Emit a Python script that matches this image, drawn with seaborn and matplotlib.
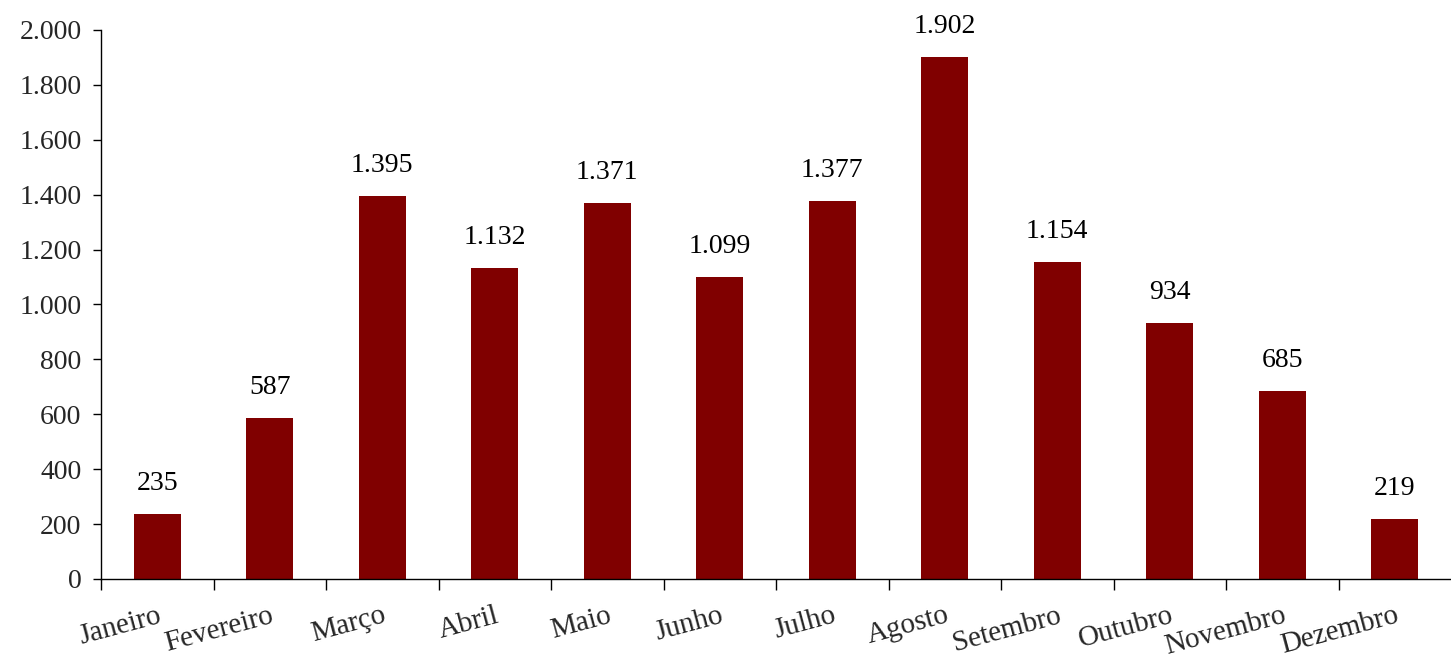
import matplotlib
matplotlib.use("Agg")
import matplotlib.pyplot as plt
import seaborn as sns
import pandas as pd
from matplotlib.ticker import FuncFormatter

months = ["Janeiro", "Fevereiro", "Março", "Abril", "Maio", "Junho", "Julho",
          "Agosto", "Setembro", "Outubro", "Novembro", "Dezembro"]
values = [235, 587, 1395, 1132, 1371, 1099, 1377, 1902, 1154, 934, 685, 219]

sns.set_theme(style="white")
plt.rcParams['font.family'] = ['Liberation Serif', 'DejaVu Serif']

fig = plt.figure(figsize=(14.51, 6.69), dpi=100)
ax = fig.add_axes([101/1451, 1 - 579/669, 1350/1451, 549/669])

df = pd.DataFrame({"month": months, "value": values})
sns.barplot(data=df, x="month", y="value", color="#800000", width=0.42,
            saturation=1, linewidth=0, ax=ax)

fmt = lambda v: f"{int(v):,}".replace(",", ".")
for i, v in enumerate(values):
    ax.annotate(fmt(v), (i, v), xytext=(0, 13), textcoords="offset points",
                ha="center", va="bottom", fontsize=20, color="black")

ax.set_xlim(-0.5, len(months) - 0.5)
ax.set_ylim(0, 2000)
ax.set_yticks(range(0, 2001, 200))
ax.yaxis.set_major_formatter(FuncFormatter(lambda v, p: fmt(v)))
ax.tick_params(axis="y", labelsize=20, length=6, width=1, direction="out",
               left=True, color="black", pad=8)

# x ticks at category boundaries, labels at centers
ax.set_xticks([i - 0.5 for i in range(len(months))], minor=False)
ax.set_xticklabels([])
ax.set_xticks(range(len(months)), minor=True)
ax.set_xticklabels(months, minor=True, rotation=15, ha="right",
                   rotation_mode="anchor", fontsize=21)
ax.tick_params(axis="x", which="major", length=8, width=1, direction="out",
               bottom=True, color="black")
ax.tick_params(axis="x", which="minor", length=0, pad=17)

ax.set_xlabel("")
ax.set_ylabel("")
for s in ["top", "right"]:
    ax.spines[s].set_visible(False)
for s in ["left", "bottom"]:
    ax.spines[s].set_color("black")
    ax.spines[s].set_linewidth(1)

fig.savefig("out.png", dpi=100)
